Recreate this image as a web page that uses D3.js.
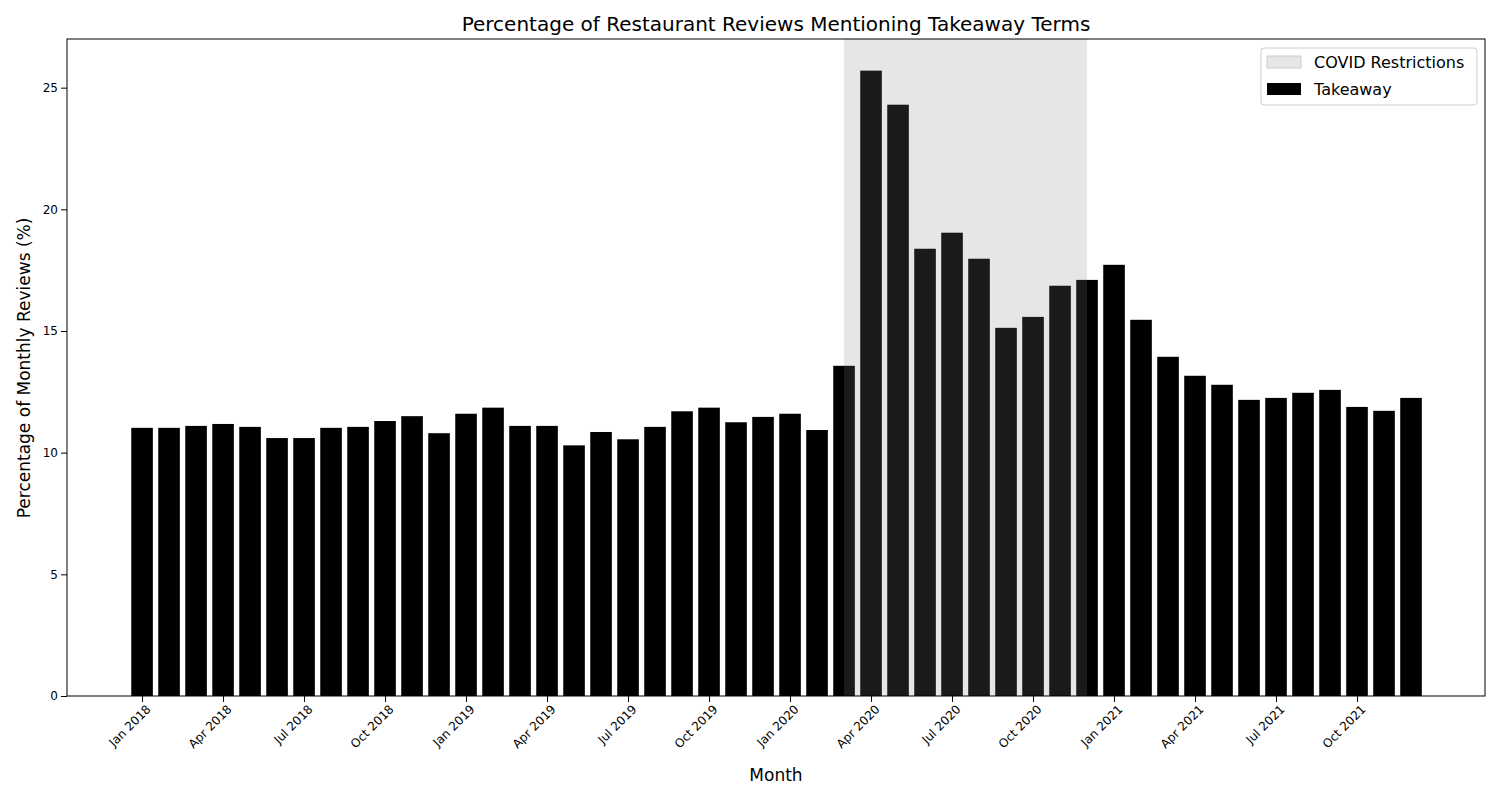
<!DOCTYPE html>
<html>
<head>
<meta charset="utf-8">
<script src="https://cdn.jsdelivr.net/npm/d3@7"></script>
<style>
  body { margin: 0; background: #fff; }
  text { font-family: "DejaVu Sans", sans-serif; }
</style>
</head>
<body>
<svg id="chart" width="1500" height="800"></svg>
<script>
// Datos
const meses = [];
const nombresMes = ["Jan","Feb","Mar","Apr","May","Jun","Jul","Aug","Sep","Oct","Nov","Dec"];
[2018, 2019, 2020, 2021].forEach(a => nombresMes.forEach(m => meses.push(m + " " + a)));

const takeaway = [
  11.02, 11.02, 11.1, 11.18, 11.06, 10.6, 10.6, 11.02, 11.06, 11.3, 11.5, 10.8,
  11.6, 11.85, 11.1, 11.1, 10.3, 10.85, 10.55, 11.06, 11.7, 11.85, 11.25, 11.47,
  11.6, 10.93, 13.57, 25.7, 24.3, 18.38, 19.04, 17.97, 15.13, 15.58, 16.86, 17.1,
  17.72, 15.46, 13.94, 13.16, 12.79, 12.17, 12.25, 12.46, 12.58, 11.88, 11.72, 12.25
];
const covidInicio = "Mar 2020";
const covidFin = "Dec 2020";
const yTicks = [0, 5, 10, 15, 20, 25];

const svg = d3.select("#chart");
const margen = { left: 67, right: 1485, top: 39, bottom: 696 };

const x = d3.scaleLinear().domain([-2.78, 49.74]).range([margen.left, margen.right]);
const y = d3.scaleLinear().domain([0, 27]).range([margen.bottom, margen.top]);
const anchoBarra = (x(1) - x(0)) * 0.8;

// Barras
svg.append("g").selectAll("rect").data(takeaway).join("rect")
  .attr("x", (d, i) => x(i) - anchoBarra / 2)
  .attr("y", d => y(d))
  .attr("width", anchoBarra)
  .attr("height", d => y(0) - y(d))
  .attr("fill", "#000");

// Zona COVID (encima de las barras)
svg.append("rect")
  .attr("x", x(meses.indexOf(covidInicio)))
  .attr("y", margen.top)
  .attr("width", x(meses.indexOf(covidFin)) - x(meses.indexOf(covidInicio)))
  .attr("height", margen.bottom - margen.top)
  .attr("fill", "#808080").attr("fill-opacity", 0.2);

// Ejes
const ticksX = d3.range(0, 48, 3);
const ejeX = svg.append("g").attr("transform", `translate(0,${margen.bottom})`)
  .call(d3.axisBottom(x).tickValues(ticksX).tickFormat(i => meses[i]).tickSizeOuter(0));
ejeX.selectAll("text")
  .attr("font-size", 12).attr("text-anchor", "end")
  .attr("dx", "-0.3em").attr("dy", "0.6em")
  .attr("transform", "rotate(-45)");

const ejeY = svg.append("g").attr("transform", `translate(${margen.left},0)`)
  .call(d3.axisLeft(y).tickValues(yTicks).tickSizeOuter(0));
ejeY.selectAll("text").attr("font-size", 12);
svg.selectAll(".domain").remove();
svg.selectAll(".tick line").attr("stroke", "#000");
svg.selectAll(".tick text").attr("fill", "#000");

svg.append("rect")
  .attr("x", margen.left).attr("y", margen.top)
  .attr("width", margen.right - margen.left).attr("height", margen.bottom - margen.top)
  .attr("fill", "none").attr("stroke", "#000");

// Textos
svg.append("text").attr("x", (margen.left + margen.right) / 2).attr("y", 31)
  .attr("text-anchor", "middle").attr("font-size", 20)
  .text("Percentage of Restaurant Reviews Mentioning Takeaway Terms");
svg.append("text").attr("x", (margen.left + margen.right) / 2).attr("y", 781)
  .attr("text-anchor", "middle").attr("font-size", 17).text("Month");
svg.append("text").attr("transform", "translate(30,368) rotate(-90)")
  .attr("text-anchor", "middle").attr("font-size", 17)
  .text("Percentage of Monthly Reviews (%)");

// Leyenda
const ley = svg.append("g");
ley.append("rect").attr("x", 1261).attr("y", 48).attr("width", 216).attr("height", 57)
  .attr("rx", 3).attr("fill", "#fff").attr("fill-opacity", 0.8).attr("stroke", "#ccc");
ley.append("rect").attr("x", 1267).attr("y", 56).attr("width", 34).attr("height", 12)
  .attr("fill", "#808080").attr("fill-opacity", 0.2).attr("stroke", "#ccc");
ley.append("text").attr("x", 1314).attr("y", 68).attr("font-size", 16).text("COVID Restrictions");
ley.append("rect").attr("x", 1267).attr("y", 83).attr("width", 34).attr("height", 12).attr("fill", "#000");
ley.append("text").attr("x", 1314).attr("y", 95).attr("font-size", 16).text("Takeaway");
</script>
</body>
</html>
